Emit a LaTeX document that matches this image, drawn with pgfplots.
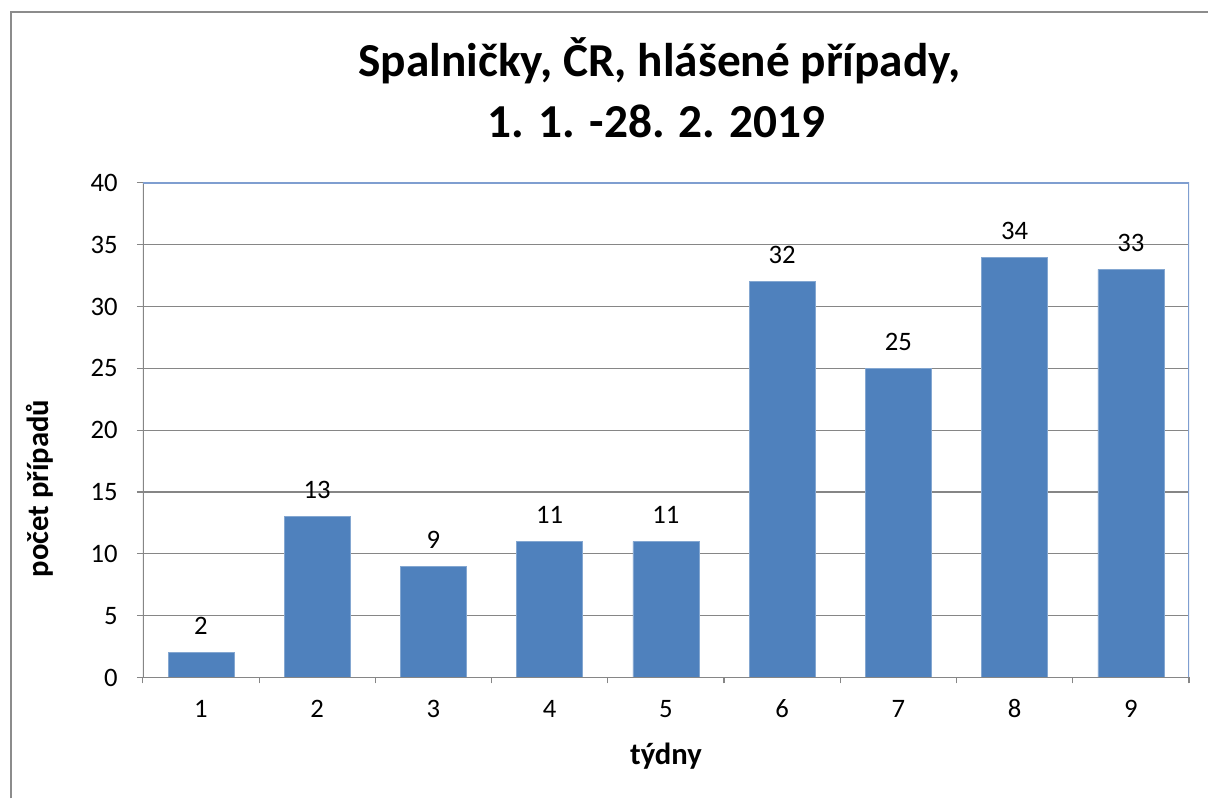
\documentclass[border=0pt]{standalone}
\usepackage{fontspec}
\setmainfont{Carlito}
\usepackage{pgfplots}
\pgfplotsset{compat=1.18}
\definecolor{barblue}{HTML}{4F81BD}
\definecolor{gridgray}{HTML}{868686}
\definecolor{frameblue}{HTML}{7F9ED0}
\definecolor{outergray}{HTML}{8C8C8C}
\begin{document}
\begin{tikzpicture}
\path (0,0) rectangle (906.75pt,-599.25pt);
\draw[color=outergray, line width=1.5pt] (8.25pt,-599.25pt) -- (8.25pt,-9pt) -- (906.75pt,-9pt);
\node[font=\fontsize{35.5}{40}\selectfont\bfseries, anchor=base] at (495pt,-57.75pt) {Spalničky, ČR, hlášené případy,};
\node[font=\fontsize{35.5}{40}\selectfont\bfseries, anchor=base] at (493pt,-103.5pt) {1. 1. -28. 2. 2019};
\begin{axis}[
  scale only axis, width=785.25pt, height=371.25pt,
  at={(107.25pt,-508.5pt)}, anchor=south west,
  xmin=0.5, xmax=9.5, ymin=0, ymax=40,
  ytick={0,5,...,40}, xtick={1,...,9},
  minor xtick={0.5,1.5,...,9.5},
  xtick pos=left, ytick pos=left,
  ymajorgrids,
  major grid style={draw=gridgray, line width=0.9pt},
  axis line style={draw=none},
  tick align=outside,
  major tick length=4.5pt, minor tick length=4.5pt,
  tick style={draw=gridgray, line width=0.9pt},
  major x tick style={draw=none},
  /pgf/number format/assume math mode=true,
  ticklabel style={font=\fontsize{20}{22}\selectfont, inner sep=0pt},
  xticklabel style={anchor=base, yshift=-25.5pt},
  yticklabel style={anchor=east, xshift=-14.25pt},
  xlabel={týdny},
  ylabel={počet případů},
  label style={font=\fontsize{23}{26}\selectfont\bfseries},
  xlabel style={at={(rel axis cs:0.5,0)}, anchor=base, yshift=-65.25pt},
  ylabel style={at={(rel axis cs:-0.0984,0.382)}, anchor=center},
  ybar, bar width=49.5pt,
  nodes near coords,
  every node near coord/.append style={font=\fontsize{20}{22}\selectfont, anchor=base, yshift=13.5pt, color=black},
]
\addplot[fill=barblue, draw=barblue!70!white, line width=0.5pt] coordinates {(1,2) (2,13) (3,9) (4,11) (5,11) (6,32) (7,25) (8,34) (9,33)};
\draw[color=gridgray, line width=1.2pt] (rel axis cs:0,1) -- (rel axis cs:0,0) -- (rel axis cs:1,0);
\draw[color=frameblue, line width=1.2pt] (rel axis cs:0,1) -- (rel axis cs:1,1) -- (rel axis cs:1,0);
\end{axis}
\end{tikzpicture}
\end{document}
